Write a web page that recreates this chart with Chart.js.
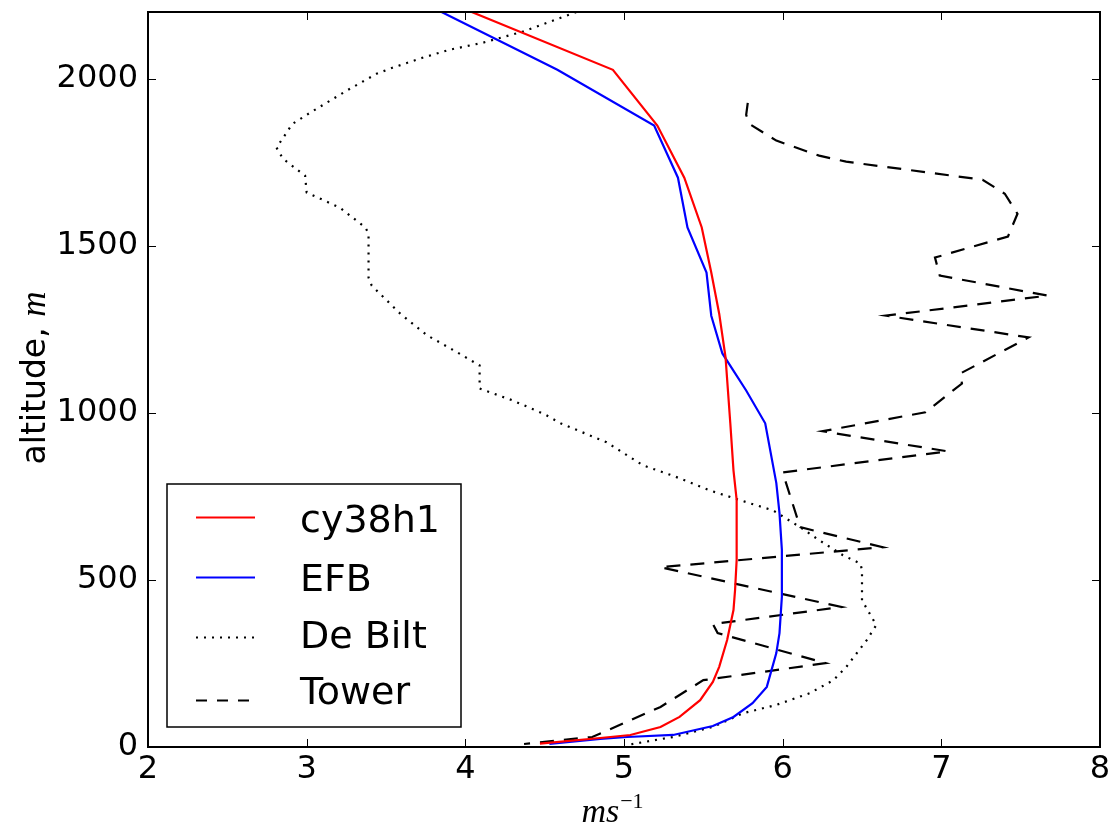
<!DOCTYPE html>
<html>
<head>
<meta charset="utf-8">
<script src="https://cdn.jsdelivr.net/npm/chart.js@4.4.0/dist/chart.umd.min.js"></script>
<style>
  html, body { margin: 0; padding: 0; background: #fff; }
</style>
</head>
<body>
<canvas id="profile" width="1113" height="828"></canvas>
<script>
// wind speed (m/s) against altitude (m)
var cySpeed = [4.04, 4.93, 5.21, 5.38, 5.49, 5.55, 5.60, 5.64, 5.67, 5.69, 5.71, 5.71, 5.70, 5.69, 5.65, 5.60, 5.56, 5.48, 5.35, 5.23, 5.04, 4.85, 4.47]
var cyAlt   = [2200, 2027, 1860, 1704, 1555, 1420, 1297, 1166, 969, 828, 740, 560, 470, 410, 320, 240, 195, 140, 90, 60, 36, 27, 10]

var efbSpeed = [3.85, 4.58, 5.19, 5.34, 5.40, 5.52, 5.55, 5.62, 5.77, 5.89, 5.96, 5.98, 5.995, 5.995, 5.98, 5.96, 5.90, 5.81, 5.69, 5.56, 5.31, 5.02, 4.85, 4.53]
var efbAlt   = [2200, 2027, 1860, 1704, 1555, 1420, 1291, 1178, 1067, 969, 790, 700, 590, 450, 341, 281, 180, 131, 90, 63, 36, 30, 24, 9]

var bltSpeed = [4.70, 4.36, 4.11, 3.90, 3.73, 3.54, 3.44, 3.25, 3.02, 2.91, 2.81, 2.85, 2.99, 3.00, 3.21, 3.37, 3.39, 3.39, 3.41, 3.59, 3.76, 3.95, 4.09, 4.09, 4.30, 4.50, 4.60, 4.89, 5.12, 5.32, 5.54, 5.77, 5.94, 6.11, 6.23, 6.38, 6.49, 6.50, 6.50, 6.59, 6.53, 6.40, 6.32, 6.17, 5.96, 5.75, 5.56, 5.31, 5.03]
var bltAlt   = [2200, 2141, 2108, 2087, 2063, 2033, 2015, 1964, 1898, 1865, 1794, 1761, 1710, 1660, 1614, 1555, 1537, 1405, 1381, 1297, 1232, 1181, 1142, 1073, 1037, 996, 969, 912, 843, 810, 768, 733, 708, 658, 619, 574, 549, 529, 439, 365, 320, 239, 200, 161, 126, 101, 60, 30, 7]

var towSpeed = [5.78, 5.77, 5.79, 5.96, 6.23, 6.40, 7.26, 7.40, 7.48, 7.42, 6.96, 6.99, 7.67, 6.65, 7.55, 7.12, 7.13, 6.90, 6.25, 7.04, 6.00, 6.11, 6.63, 5.23, 6.37, 5.56, 5.59, 6.27, 5.50, 5.23, 4.93, 4.80, 4.37]
var towAlt   = [1928, 1892, 1865, 1815, 1770, 1752, 1698, 1656, 1596, 1528, 1465, 1411, 1351, 1291, 1226, 1118, 1088, 1002, 945, 885, 822, 658, 598, 538, 419, 368, 341, 251, 200, 120, 57, 30, 9]

var names = ['cy38h1', 'EFB', 'De Bilt', 'Tower']
var xTicks = [2, 3, 4, 5, 6, 7, 8]
var yTicks = [0, 500, 1000, 1500, 2000]

function pairs(xs, ys) {
    var out = []
    for (var i = 0; i < xs.length; ++i) out.push({x: xs[i], y: ys[i]})
    return out
}

function serie(label, xs, ys, color, dash, width) {
    return {
        label: label,
        data: pairs(xs, ys),
        borderColor: color,
        backgroundColor: color,
        borderWidth: width,
        borderDash: dash,
        pointRadius: 0,
        tension: 0,
        fill: false
    }
}

// frame, inward ticks on all four sides, legend, axis titles
var decor = {
    id: 'decor',
    afterDatasetsDraw: function(chart) {
        var ctx = chart.ctx, a = chart.chartArea
        var xs = chart.scales.x, ys = chart.scales.y
        ctx.save()
        ctx.strokeStyle = '#000'
        ctx.lineWidth = 1
        ctx.beginPath()
        xTicks.forEach(function(v) {
            var px = Math.round(xs.getPixelForValue(v)) + 0.5
            ctx.moveTo(px, a.bottom); ctx.lineTo(px, a.bottom - 8)
            ctx.moveTo(px, a.top); ctx.lineTo(px, a.top + 8)
        })
        yTicks.forEach(function(v) {
            var py = Math.round(ys.getPixelForValue(v)) + 0.5
            ctx.moveTo(a.left, py); ctx.lineTo(a.left + 8, py)
            ctx.moveTo(a.right, py); ctx.lineTo(a.right - 8, py)
        })
        ctx.stroke()
        ctx.lineWidth = 2
        ctx.strokeRect(a.left, a.top, a.right - a.left, a.bottom - a.top)

        // legend box
        var lx = 167, ly = 484, lw = 294, lh = 243
        var lineY = [517, 577, 637, 700]
        var textY = [532, 591, 648, 704]
        ctx.fillStyle = '#fff'
        ctx.fillRect(lx, ly, lw, lh)
        ctx.lineWidth = 1.5
        ctx.strokeRect(lx, ly, lw, lh)
        ctx.font = '38px "DejaVu Sans"'
        ctx.textBaseline = 'alphabetic'
        ctx.textAlign = 'left'
        chart.data.datasets.forEach(function(ds, i) {
            var ry = lineY[i]
            ctx.save()
            ctx.strokeStyle = ds.borderColor
            ctx.lineWidth = ds.borderWidth
            ctx.setLineDash(i == 3 ? [11, 10] : (ds.borderDash || []))
            ctx.beginPath()
            ctx.moveTo(196, ry + 0.5); ctx.lineTo(255, ry + 0.5)
            ctx.stroke()
            ctx.restore()
            ctx.fillStyle = '#000'
            ctx.fillText(ds.label, 300, textY[i])
        })

        // y title
        ctx.save()
        ctx.translate(45, 378)
        ctx.rotate(-Math.PI / 2)
        ctx.font = '33px "DejaVu Sans"'
        var part1 = 'altitude, '
        var w1 = ctx.measureText(part1).width
        ctx.font = 'italic 35px "Liberation Serif"'
        var w2 = ctx.measureText('m').width
        var sx = -(w1 + w2) / 2
        ctx.textBaseline = 'alphabetic'
        ctx.font = '33px "DejaVu Sans"'
        ctx.fillText(part1, sx, 0)
        ctx.font = 'italic 35px "Liberation Serif"'
        ctx.fillText('m', sx + w1, 0)
        ctx.restore()

        // x title
        ctx.textBaseline = 'alphabetic'
        ctx.font = 'italic 34px "Liberation Serif"'
        var wm = ctx.measureText('ms').width
        ctx.font = '22px "Liberation Serif"'
        var ws = ctx.measureText('\u22121').width
        var x0 = 612 - (wm + ws) / 2
        ctx.font = 'italic 34px "Liberation Serif"'
        ctx.fillText('ms', x0, 822)
        ctx.font = '22px "Liberation Serif"'
        ctx.fillText('\u22121', x0 + wm + 1, 808)
        ctx.restore()
    }
}

var ctx = document.getElementById('profile')
var chart = new Chart(ctx, {
    type: 'line',
    data: {
        datasets: [
            serie(names[0], cySpeed, cyAlt, '#ff0000', [], 2.2),
            serie(names[1], efbSpeed, efbAlt, '#0000ff', [], 2.2),
            serie(names[2], bltSpeed, bltAlt, '#000000', [2, 6], 2.2),
            serie(names[3], towSpeed, towAlt, '#000000', [14, 10], 2.2)
        ]
    },
    options: {
        responsive: false,
        animation: false,
        devicePixelRatio: 1,
        layout: { padding: { top: 12, right: 13, left: 0, bottom: 0 } },
        plugins: {
            legend: { display: false },
            tooltip: { enabled: false }
        },
        scales: {
            x: {
                type: 'linear',
                min: 2,
                max: 8,
                afterFit: function(scale) {
                    scale.height = 81
                    scale.paddingLeft = 0
                    scale.paddingRight = 0
                },
                afterBuildTicks: function(scale) {
                    scale.ticks = xTicks.map(function(v) { return {value: v} })
                },
                grid: { display: false, drawTicks: false },
                border: { display: false },
                ticks: {
                    padding: 3,
                    color: '#000',
                    font: { family: 'DejaVu Sans', size: 32 },
                    callback: function(value) { return String(value) }
                }
            },
            y: {
                type: 'linear',
                min: 0,
                max: 2200,
                afterFit: function(scale) {
                    scale.width = 148
                    scale.paddingTop = 0
                    scale.paddingBottom = 0
                },
                afterBuildTicks: function(scale) {
                    scale.ticks = yTicks.map(function(v) { return {value: v} })
                },
                grid: { display: false, drawTicks: false },
                border: { display: false },
                ticks: {
                    padding: 10,
                    color: '#000',
                    font: { family: 'DejaVu Sans', size: 32 },
                    callback: function(value) { return String(value) }
                }
            }
        }
    },
    plugins: [decor]
});
</script>
</body>
</html>
